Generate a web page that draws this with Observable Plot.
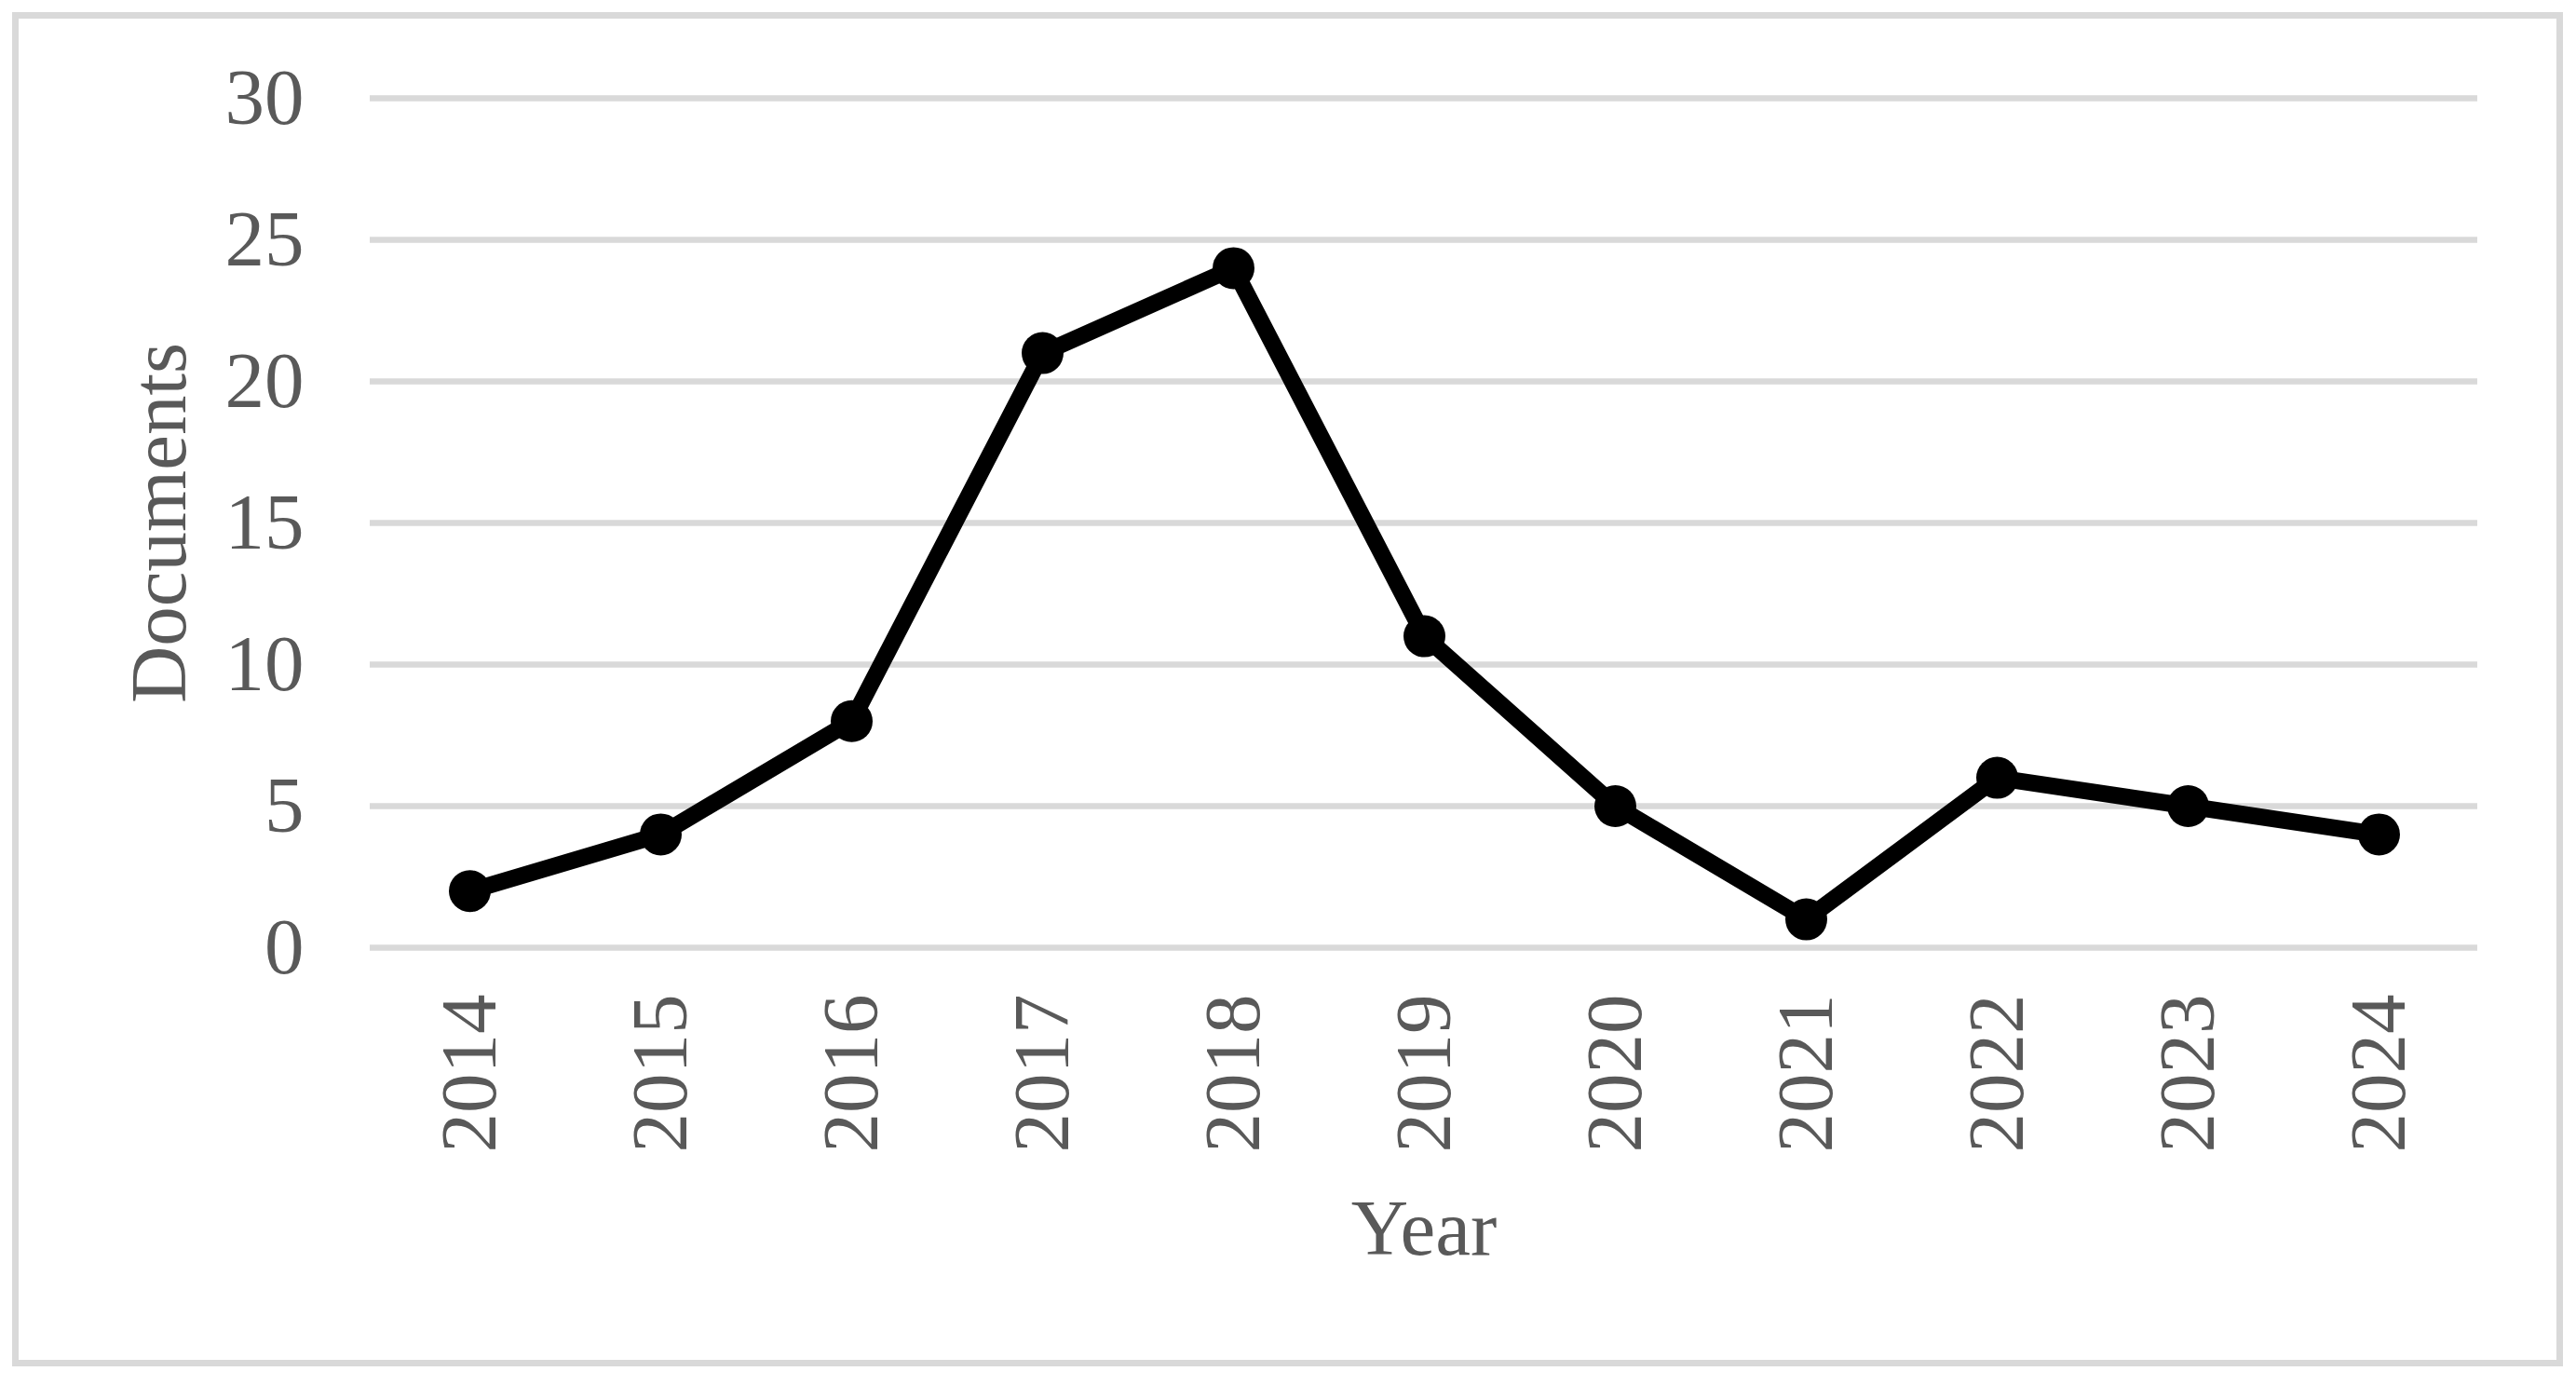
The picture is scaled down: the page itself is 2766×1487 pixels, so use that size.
<!DOCTYPE html>
<html>
<head>
<meta charset="utf-8">
<script src="https://cdn.jsdelivr.net/npm/d3@7"></script>
<script src="https://cdn.jsdelivr.net/npm/@observablehq/plot@0.6"></script>
<style>
  html, body { margin: 0; padding: 0; background: #ffffff; }
  #wrap { position: relative; width: 2766px; height: 1487px; overflow: hidden; }
  #border { position: absolute; left: 13px; top: 13px; width: 2739px; height: 1454px;
            box-sizing: border-box; border: 7px solid #d9d9d9; pointer-events: none; }
  svg { display: block; }
</style>
</head>
<body>
<div id="wrap"><div id="border"></div></div>
<script>
const years = ["2014","2015","2016","2017","2018","2019","2020","2021","2022","2023","2024"];
const documents = [2, 4, 8, 21, 24, 11, 5, 1, 6, 5, 4];
const yTicks = [0, 5, 10, 15, 20, 25, 30];
const xLabel = "Year";
const yLabel = "Documents";

const data = years.map((y, i) => ({year: y, docs: documents[i]}));

const font = "'Liberation Serif', 'Times New Roman', serif";
const textColor = "#595959";

const chart = Plot.plot({
  width: 2766,
  height: 1487,
  marginLeft: 397,
  marginRight: 106,
  marginTop: 105,
  marginBottom: 470,
  style: {background: "transparent", fontFamily: font, color: textColor},
  x: {type: "point", domain: years, padding: 0.5},
  y: {domain: [0, 30]},
  marks: [
    Plot.ruleY(yTicks, {stroke: "#d9d9d9", strokeWidth: 6.5}),
    Plot.axisY({ticks: yTicks, tickSize: 0, tickPadding: 71, fontSize: 85, label: null, fill: textColor, fontFamily: font}),
    Plot.axisX({tickSize: 0, tickPadding: 50, tickRotate: -90, fontSize: 85, label: null, fill: textColor, fontFamily: font}),
    Plot.text([xLabel], {frameAnchor: "bottom", text: d => d, dy: 329, lineAnchor: "bottom", fontSize: 85, fill: textColor, fontFamily: font}),
    Plot.text([yLabel], {frameAnchor: "left", text: d => d, rotate: -90, dx: -199, textAnchor: "middle", lineAnchor: "bottom", fontSize: 85, fill: textColor, fontFamily: font}),
    Plot.line(data, {x: "year", y: "docs", stroke: "#000000", strokeWidth: 18, strokeLinejoin: "round"}),
    Plot.dot(data, {x: "year", y: "docs", r: 22.5, fill: "#000000", stroke: "none"})
  ]
});
document.getElementById("wrap").insertBefore(chart, document.getElementById("border"));
</script>
</body>
</html>
